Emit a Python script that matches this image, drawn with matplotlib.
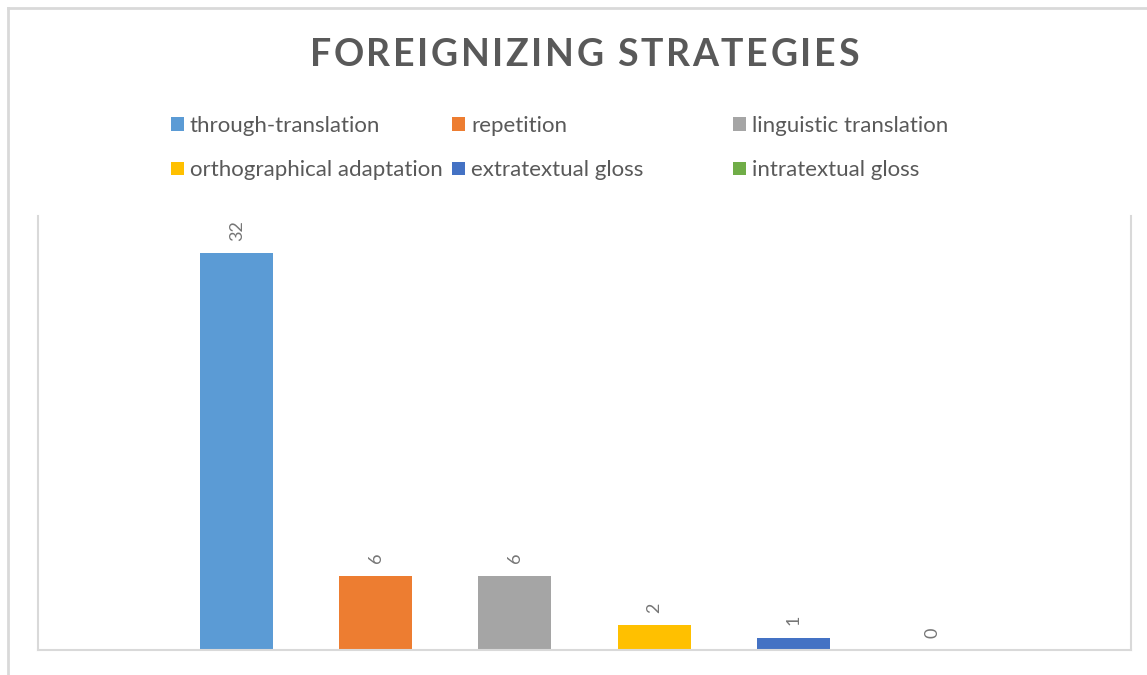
import matplotlib

matplotlib.use("Agg")

import matplotlib.pyplot as plt
from matplotlib.lines import Line2D
from matplotlib.patches import Rectangle

strategies = [
    "through-translation",
    "repetition",
    "linguistic translation",
    "orthographical adaptation",
    "extratextual gloss",
    "intratextual gloss",
]
counts = [32, 6, 6, 2, 1, 0]
colors = ["#5B9BD5", "#ED7D31", "#A5A5A5", "#FFC000", "#4472C4", "#70AD47"]
title = "FOREIGNIZING STRATEGIES"

W, H = 1147, 675
TEXT = "#595959"
GRID = "#D9D9D9"

plt.rcParams["font.family"] = ["Lato", "DejaVu Sans"]

fig = plt.figure(figsize=(W / 100, H / 100), dpi=100)
renderer = fig.canvas.get_renderer()

# outer chart border (only top and left visible in the crop)
fig.add_artist(Line2D([8 / W, 8 / W], [0, 1 - 8 / H], color=GRID, lw=2))
fig.add_artist(Line2D([8 / W, 1], [1 - 8 / H, 1 - 8 / H], color=GRID, lw=2))

# plot area
left, right, top, bottom = 38, 1131, 216, 650
ax = fig.add_axes([left / W, 1 - bottom / H, (right - left) / W, (bottom - top) / H])
x = list(range(len(counts)))
ax.bar(x, counts, width=0.525, color=colors)
ax.set_xlim(-1.43, len(counts) - 1 + 1.43)
ax.set_ylim(0, 35)
ax.set_xticks([])
ax.set_yticks([])
for side in ("left", "right", "bottom"):
    ax.spines[side].set_color(GRID)
    ax.spines[side].set_linewidth(1.5)
ax.spines["top"].set_visible(False)

for xi, v in zip(x, counts):
    ax.annotate(str(v), (xi, v), xytext=(0, 9), textcoords="offset points",
                rotation=90, ha="center", va="bottom", fontsize=13, color="#767676")

# title with letter spacing, placed one character at a time
spacing = 2.6
chars = []
for ch in title:
    t = fig.text(0, 1 - 55 / H, ch, ha="left", va="center",
                 fontsize=27, fontweight="bold", color=TEXT)
    w = t.get_window_extent(renderer).width if ch != " " else 9.0
    chars.append((t, w))
total = sum(w for _, w in chars) + spacing * (len(chars) - 1)
cx = 584 - total / 2
for t, w in chars:
    t.set_x(cx / W)
    cx += w + spacing

# legend, drawn by hand so columns are evenly spaced like Excel
col_x = [171, 452, 733]
row_y = [124, 168]
box = 13
for i, (name, c) in enumerate(zip(strategies, colors)):
    mx = col_x[i % 3]
    my = row_y[i // 3]
    fig.add_artist(Rectangle((mx / W, 1 - (my + box / 2) / H), box / W, box / H,
                             facecolor=c, edgecolor="none", transform=fig.transFigure))
    fig.text((mx + 19) / W, 1 - my / H, name, ha="left", va="center_baseline",
             fontsize=16, color=TEXT)

fig.savefig("out.png", dpi=100)
